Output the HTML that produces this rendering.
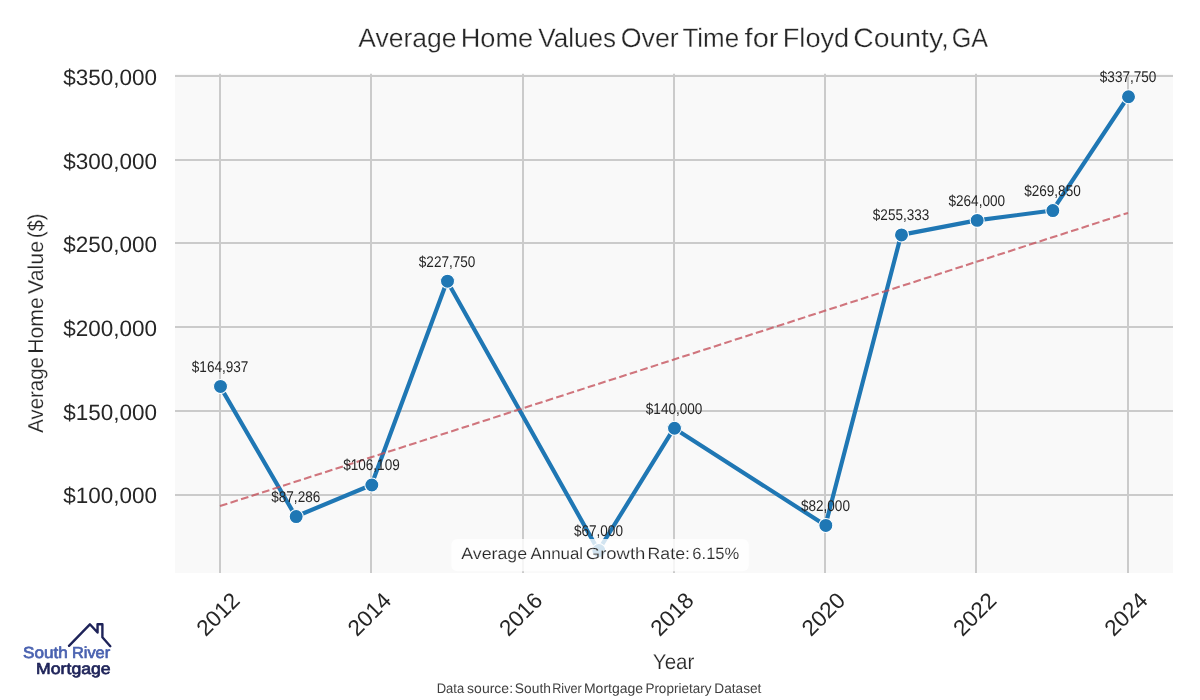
<!DOCTYPE html>
<html lang="en"><head><meta charset="utf-8"><title>Average Home Values Over Time for Floyd County, GA</title>
<style>
html,body{margin:0;padding:0;background:#fff;}
body{width:1200px;height:700px;overflow:hidden;}
svg{display:block;}
text{font-family:"Liberation Sans",sans-serif;fill:#262626;text-rendering:geometricPrecision;}
.cap text{fill:#404040;}
</style></head><body>
<svg width="1200" height="700" viewBox="0 0 1200 700">
<rect width="1200" height="700" fill="#ffffff"/>
<rect x="175.0" y="73.85" width="998.0" height="499.15" fill="#f9f9f9"/>
<g stroke="#cbcbcb" stroke-width="2" fill="none">
<line x1="220" y1="73.85" x2="220" y2="573.0"/>
<line x1="371" y1="73.85" x2="371" y2="573.0"/>
<line x1="523" y1="73.85" x2="523" y2="573.0"/>
<line x1="674" y1="73.85" x2="674" y2="573.0"/>
<line x1="825" y1="73.85" x2="825" y2="573.0"/>
<line x1="976" y1="73.85" x2="976" y2="573.0"/>
<line x1="1128" y1="73.85" x2="1128" y2="573.0"/>
<line x1="175.0" y1="495" x2="1173.0" y2="495"/>
<line x1="175.0" y1="411" x2="1173.0" y2="411"/>
<line x1="175.0" y1="327" x2="1173.0" y2="327"/>
<line x1="175.0" y1="243" x2="1173.0" y2="243"/>
<line x1="175.0" y1="160" x2="1173.0" y2="160"/>
<line x1="175.0" y1="76" x2="1173.0" y2="76"/>
</g>
<g font-size="22.2">
<text x="63.26" y="503.05" textLength="93.82" lengthAdjust="spacingAndGlyphs">$100,000</text>
<text x="63.26" y="419.50" textLength="93.82" lengthAdjust="spacingAndGlyphs">$150,000</text>
<text x="63.26" y="335.50" textLength="93.82" lengthAdjust="spacingAndGlyphs">$200,000</text>
<text x="63.26" y="251.50" textLength="93.82" lengthAdjust="spacingAndGlyphs">$250,000</text>
<text x="63.26" y="168.50" textLength="93.82" lengthAdjust="spacingAndGlyphs">$300,000</text>
<text x="63.26" y="84.50" textLength="93.82" lengthAdjust="spacingAndGlyphs">$350,000</text>
</g>
<g font-size="22.5" text-anchor="middle">
<text transform="translate(217.80,613.90) rotate(-45)" x="0" y="8">2012</text>
<text transform="translate(369.13,613.90) rotate(-45)" x="0" y="8">2014</text>
<text transform="translate(520.47,613.90) rotate(-45)" x="0" y="8">2016</text>
<text transform="translate(671.80,613.90) rotate(-45)" x="0" y="8">2018</text>
<text transform="translate(823.13,613.90) rotate(-45)" x="0" y="8">2020</text>
<text transform="translate(974.47,613.90) rotate(-45)" x="0" y="8">2022</text>
<text transform="translate(1125.80,613.90) rotate(-45)" x="0" y="8">2024</text>
</g>
<polyline points="220.10,386.37 295.77,516.51 371.43,484.97 447.10,281.10 598.43,550.51 674.10,428.16 825.43,525.37 901.10,234.87 976.77,220.34 1052.43,210.54 1128.10,96.74" fill="none" stroke="#1f77b4" stroke-width="4.17" stroke-linejoin="round" stroke-linecap="round"/>
<g fill="#1f77b4" stroke="#ffffff" stroke-width="1.04">
<circle cx="220.50" cy="386.42" r="7"/>
<circle cx="296.17" cy="516.56" r="7"/>
<circle cx="371.83" cy="485.02" r="7"/>
<circle cx="447.50" cy="281.15" r="7"/>
<circle cx="598.83" cy="550.56" r="7"/>
<circle cx="674.50" cy="428.21" r="7"/>
<circle cx="825.83" cy="525.42" r="7"/>
<circle cx="901.50" cy="234.92" r="7"/>
<circle cx="977.17" cy="220.39" r="7"/>
<circle cx="1052.83" cy="210.59" r="7"/>
<circle cx="1128.50" cy="96.79" r="7"/>
</g>
<line x1="220.00" y1="506.39" x2="1128.00" y2="213.20" stroke="#c4505a" stroke-opacity="0.78" stroke-width="2.08" stroke-dasharray="7.708 3.333" stroke-dashoffset="0" transform="translate(0,-0.3)"/>
<g font-size="15.5">
<text x="191.80" y="371.87" textLength="56.60" lengthAdjust="spacingAndGlyphs">$164,937</text>
<text x="271.24" y="502.01" textLength="49.05" lengthAdjust="spacingAndGlyphs">$87,286</text>
<text x="343.13" y="470.47" textLength="56.60" lengthAdjust="spacingAndGlyphs">$106,109</text>
<text x="418.80" y="266.60" textLength="56.60" lengthAdjust="spacingAndGlyphs">$227,750</text>
<text x="573.91" y="536.01" textLength="49.05" lengthAdjust="spacingAndGlyphs">$67,000</text>
<text x="645.80" y="413.66" textLength="56.60" lengthAdjust="spacingAndGlyphs">$140,000</text>
<text x="800.91" y="510.87" textLength="49.05" lengthAdjust="spacingAndGlyphs">$82,000</text>
<text x="872.80" y="220.37" textLength="56.60" lengthAdjust="spacingAndGlyphs">$255,333</text>
<text x="948.47" y="205.84" textLength="56.60" lengthAdjust="spacingAndGlyphs">$264,000</text>
<text x="1024.13" y="196.04" textLength="56.60" lengthAdjust="spacingAndGlyphs">$269,850</text>
<text x="1099.80" y="82.24" textLength="56.60" lengthAdjust="spacingAndGlyphs">$337,750</text>
</g>
<rect x="451.3" y="539" width="297.5" height="32.2" rx="6" ry="6" fill="#ffffff" fill-opacity="0.8"/>
<g font-size="16.3" stroke="#fdfdfd" stroke-width="0.15" paint-order="fill stroke">
<text x="461.27" y="559.4" textLength="65.82" lengthAdjust="spacingAndGlyphs">Average</text>
<text x="530.57" y="559.4" textLength="52.56" lengthAdjust="spacingAndGlyphs">Annual</text>
<text x="585.77" y="559.4" textLength="59.63" lengthAdjust="spacingAndGlyphs">Growth</text>
<text x="647.55" y="559.4" textLength="42.37" lengthAdjust="spacingAndGlyphs">Rate:</text>
<text x="692.36" y="559.4" textLength="46.93" lengthAdjust="spacingAndGlyphs">6.15%</text>
</g>
<g font-size="26.7" stroke="#ffffff" stroke-width="0.28" paint-order="fill stroke">
<text x="358.25" y="46.6" textLength="98.23" lengthAdjust="spacingAndGlyphs">Average</text>
<text x="460.77" y="46.6" textLength="72.43" lengthAdjust="spacingAndGlyphs">Home</text>
<text x="538.19" y="46.6" textLength="77.76" lengthAdjust="spacingAndGlyphs">Values</text>
<text x="620.73" y="46.6" textLength="58.01" lengthAdjust="spacingAndGlyphs">Over</text>
<text x="682.42" y="46.6" textLength="56.74" lengthAdjust="spacingAndGlyphs">Time</text>
<text x="744.59" y="46.6" textLength="33.89" lengthAdjust="spacingAndGlyphs">for</text>
<text x="782.77" y="46.6" textLength="66.48" lengthAdjust="spacingAndGlyphs">Floyd</text>
<text x="853.26" y="46.6" textLength="95.59" lengthAdjust="spacingAndGlyphs">County,</text>
<text x="951.74" y="46.6" textLength="36.31" lengthAdjust="spacingAndGlyphs">GA</text>
</g>
<g font-size="21.6" stroke="#ffffff" stroke-width="0.18" paint-order="fill stroke">
<text x="652.85" y="668.7" textLength="41.49" lengthAdjust="spacingAndGlyphs">Year</text>
</g>
<g font-size="21.6" transform="translate(43.3,0) rotate(-90)" stroke="#ffffff" stroke-width="0.18" paint-order="fill stroke">
<text x="-432.64" y="0" textLength="75.44" lengthAdjust="spacingAndGlyphs">Average</text>
<text x="-353.84" y="0" textLength="56.69" lengthAdjust="spacingAndGlyphs">Home</text>
<text x="-293.89" y="0" textLength="52.94" lengthAdjust="spacingAndGlyphs">Value</text>
<text x="-237.93" y="0" textLength="24.26" lengthAdjust="spacingAndGlyphs">($)</text>
</g>
<g font-size="13.8" class="cap">
<text x="436.73" y="692.8" textLength="27.47" lengthAdjust="spacingAndGlyphs">Data</text>
<text x="467.11" y="692.8" textLength="45.92" lengthAdjust="spacingAndGlyphs">source:</text>
<text x="514.87" y="692.8" textLength="36.02" lengthAdjust="spacingAndGlyphs">South</text>
<text x="552.26" y="692.8" textLength="29.44" lengthAdjust="spacingAndGlyphs">River</text>
<text x="583.95" y="692.8" textLength="59.17" lengthAdjust="spacingAndGlyphs">Mortgage</text>
<text x="645.39" y="692.8" textLength="66.03" lengthAdjust="spacingAndGlyphs">Proprietary</text>
<text x="714.28" y="692.8" textLength="47.12" lengthAdjust="spacingAndGlyphs">Dataset</text>
</g>
<polyline points="69,645.8 89.9,624.3 97.55,632.5 97.55,624.25 102.4,624.25 102.4,637.2 110.3,646.2" fill="none" stroke="#1e2359" stroke-width="2.4" stroke-linecap="round" stroke-linejoin="round"/>
<g font-size="16.0" stroke-width="0.7" stroke-linejoin="round">
<text x="23.07" y="658.0" textLength="44.69" lengthAdjust="spacingAndGlyphs" style="fill:#4a62b0;stroke:#4a62b0">South</text>
<text x="72.01" y="658.0" textLength="38.11" lengthAdjust="spacingAndGlyphs" style="fill:#4a62b0;stroke:#4a62b0">River</text>
</g>
<g font-size="16.0" stroke-width="0.7" stroke-linejoin="round">
<text x="36.10" y="673.9" textLength="74.53" lengthAdjust="spacingAndGlyphs" style="fill:#1e2359;stroke:#1e2359">Mortgage</text>
</g>
</svg></body></html>
